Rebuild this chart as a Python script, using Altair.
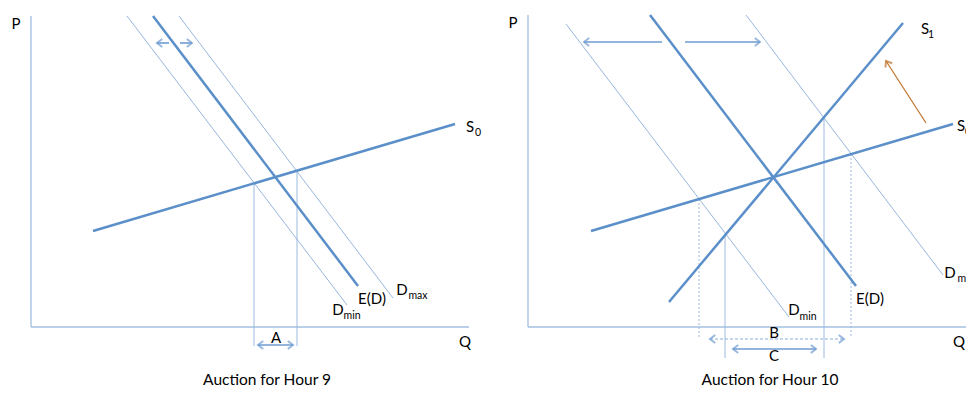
import altair as alt
import pandas as pd

# ---- Diagram geometry (in the chart's own pixel-like units) ----
# Thick curves: E(D) hour 9, S0 hour 9, E(D) hour 10, S0 hour 10, S1 hour 10
thick_x1 = [153, 93, 650, 591, 669]
thick_y1 = [16, 231, 15, 231, 302]
thick_x2 = [358, 455, 856, 953, 903]
thick_y2 = [286, 124, 286, 124, 23]

# Thin demand bounds: Dmin/Dmax hour 9, Dmin/Dmax hour 10
thin_x1 = [127, 179, 566, 746]
thin_y1 = [16, 16, 24, 15]
thin_x2 = [347, 393, 789, 943]
thin_y2 = [305, 298, 317, 275]

# Axes (P vertical, Q horizontal) for both panels
axis_x1 = [31, 31, 528, 528]
axis_y1 = [16, 327, 15, 327]
axis_x2 = [31, 469, 528, 966]
axis_y2 = [327, 327, 327, 327]

# Solid vertical guides
guide_x = [254, 297, 725, 824]
guide_top = [183, 171, 234, 117]
guide_bottom = [346, 346, 358, 358]

# Dotted vertical guides
dot_x = [699, 851]
dot_top = [199, 154]
dot_bottom = [338, 338]

# Solid arrow shafts
arrow_x1 = [157, 180, 258, 584, 685, 733]
arrow_x2 = [169, 192, 293, 662, 760, 816]
arrow_y = [43, 43, 345, 42, 42, 349]

# Dashed arrow shaft (B)
dash_x1 = [710]
dash_x2 = [844]
dash_y = [339]

# Arrow tips pointing left / right
left_tip_x = [157, 258, 584, 733, 710]
left_tip_y = [43, 345, 42, 349, 339]
right_tip_x = [192, 293, 760, 816, 844]
right_tip_y = [43, 345, 42, 349, 339]

# Supply-shift arrow (orange)
shift_x1 = [926]
shift_y1 = [123]
shift_x2 = [886]
shift_y2 = [61]

# Labels
label_text = ["P", "Q", "S", "E(D)", "D", "D", "A",
              "P", "Q", "S", "S", "E(D)", "D", "D", "B", "C"]
label_x = [16, 465, 470, 372, 338, 402, 276,
           513, 959, 925, 961, 870, 794, 950, 774, 774]
label_y = [24, 342, 127, 299, 310, 290, 338,
           23, 342, 29, 126, 299, 310, 273, 333, 356]

sub_text = ["0", "min", "max", "1", "0", "min", "max"]
sub_x = [478, 352, 418, 931, 968, 808, 967]
sub_y = [133, 316, 296, 35, 132, 317, 279]

title_text = ["Auction for Hour 9", "Auction for Hour 10"]
title_x = [267, 770]
title_y = [380, 380]

# ---- build tables ----
def seg(x1, y1, x2, y2):
    return pd.DataFrame({"x": x1, "y": y1, "x2": x2, "y2": y2})

thick = seg(thick_x1, thick_y1, thick_x2, thick_y2)
thin = seg(thin_x1, thin_y1, thin_x2, thin_y2)
axes = seg(axis_x1, axis_y1, axis_x2, axis_y2)
guides = seg(guide_x, guide_top, guide_x, guide_bottom)
dots = seg(dot_x, dot_top, dot_x, dot_bottom)
arrows = seg(arrow_x1, arrow_y, arrow_x2, arrow_y)
dashes = seg(dash_x1, dash_y, dash_x2, dash_y)
shift = seg(shift_x1, shift_y1, shift_x2, shift_y2)
ltips = pd.DataFrame({"x": left_tip_x, "y": left_tip_y})
rtips = pd.DataFrame({"x": right_tip_x, "y": right_tip_y})
otip = pd.DataFrame({"x": shift_x2, "y": shift_y2})
labels = pd.DataFrame({"t": label_text, "x": label_x, "y": label_y})
subs = pd.DataFrame({"t": sub_text, "x": sub_x, "y": sub_y})
titles = pd.DataFrame({"t": title_text, "x": title_x, "y": title_y})

W, H = 958, 380
xs = alt.Scale(domain=[8, 8 + W], nice=False, zero=False)
ys = alt.Scale(domain=[8 + H, 8], nice=False, zero=False)

def X(f="x"):
    return alt.X(f + ":Q", scale=xs, axis=None)

def Y(f="y"):
    return alt.Y(f + ":Q", scale=ys, axis=None)

def rules(df, color, width, dash=None):
    kw = dict(color=color, strokeWidth=width)
    if dash:
        kw["strokeDash"] = dash
    return alt.Chart(df).mark_rule(**kw).encode(
        x=X(), y=Y(), x2="x2:Q", y2="y2:Q")

FONT = "Lato"
LEFT = "M1.3,-1L0,0L1.3,1"
RIGHT = "M-1.3,-1L0,0L-1.3,1"

layers = [
    rules(axes, "#A3BFE0", 1.3),
    rules(guides, "#9DBAE0", 1),
    rules(dots, "#9DBAE0", 1, [2, 2]),
    rules(thin, "#8AAED9", 0.9),
    rules(thick, "#5B8FC9", 2.5),
    rules(arrows, "#6F9CD2", 1.6),
    rules(dashes, "#8AAED9", 1.2, [3, 2]),
    rules(shift, "#C0722A", 1.2),
    alt.Chart(ltips).mark_point(shape=LEFT, size=64, filled=False,
                                color="#6F9CD2", strokeWidth=2).encode(x=X(), y=Y()),
    alt.Chart(rtips).mark_point(shape=RIGHT, size=64, filled=False,
                                color="#6F9CD2", strokeWidth=2).encode(x=X(), y=Y()),
    alt.Chart(otip).mark_point(shape=LEFT, size=64, filled=False, angle=57,
                               color="#C0722A", strokeWidth=2).encode(x=X(), y=Y()),
    alt.Chart(labels).mark_text(font=FONT, fontSize=15, color="#000000",
                                align="center", baseline="middle").encode(
        x=X(), y=Y(), text="t:N"),
    alt.Chart(subs).mark_text(font=FONT, fontSize=10.5, color="#000000",
                              align="center", baseline="middle").encode(
        x=X(), y=Y(), text="t:N"),
    alt.Chart(titles).mark_text(font=FONT, fontSize=15.5, color="#000000",
                                align="center", baseline="middle").encode(
        x=X(), y=Y(), text="t:N"),
]

chart = alt.layer(*layers).properties(
    width=W, height=H,
    autosize=alt.AutoSizeParams(type="none"),
    padding=0,
    background="white",
).configure_view(stroke=None)

chart.save("out.html", embed_options={"renderer": "svg", "actions": False})
